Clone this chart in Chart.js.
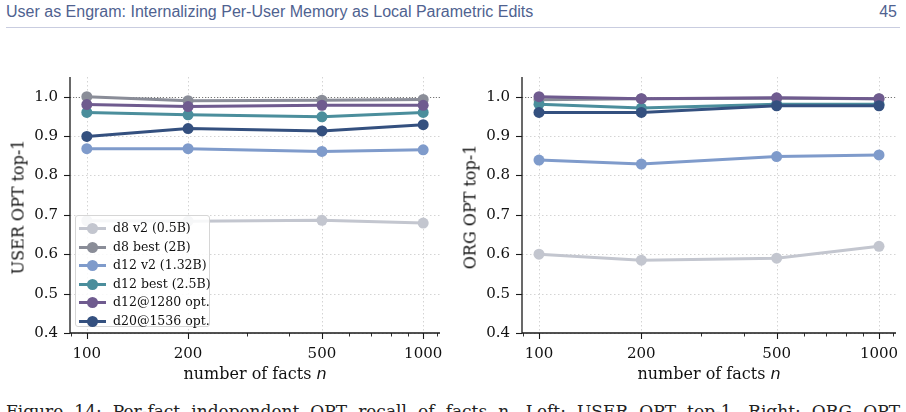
<!DOCTYPE html>
<html><head><meta charset="utf-8">
<script src="https://cdn.jsdelivr.net/npm/chart.js@4.4.1/dist/chart.umd.min.js"></script>
<style>
html,body{margin:0;padding:0;background:#fff;width:906px;height:412px;overflow:hidden;position:relative;}
#hdr{position:absolute;left:6px;top:3px;font:16px "Liberation Sans",Arial,sans-serif;color:#4f6290;white-space:nowrap;}
#pg{position:absolute;right:9px;top:3px;font:16px "Liberation Sans",Arial,sans-serif;color:#4f6290;}
#rule{position:absolute;left:6px;top:27px;width:894px;height:1px;background:#c9cde0;}
.cw{position:absolute;top:60px;height:335px;}
.xt{position:absolute;font:16px "DejaVu Serif",serif;color:#111;white-space:nowrap;transform:translateX(-50%);}
.xt i{font-family:"DejaVu Sans",sans-serif;font-style:oblique;}
.yt{position:absolute;font:16px "DejaVu Serif",serif;color:#111;white-space:nowrap;transform:translate(-50%,-50%) rotate(-90deg);}
#leg{position:absolute;left:75px;top:215px;width:135px;height:112px;background:rgba(255,255,255,0.85);border:1px solid #d6d6d6;border-radius:3px;box-sizing:border-box;}
.row{position:absolute;left:0;height:18px;font:12.5px "DejaVu Serif",serif;color:#111;white-space:nowrap;}
.row .ln{position:absolute;left:3px;top:8px;width:27px;height:3px;}
.row .dt{position:absolute;left:11px;top:4px;width:11px;height:11px;border-radius:50%;}
.row .tx{position:absolute;left:37px;top:1px;}
#cap{position:absolute;left:6px;top:401px;width:894px;font:17px "DejaVu Serif",serif;color:#222;text-align:justify;text-align-last:justify;white-space:nowrap;}
</style></head>
<body>
<div id="hdr">User as Engram: Internalizing Per-User Memory as Local Parametric Edits</div>
<div id="pg">45</div>
<div id="rule"></div>
<div class="cw" style="left:0;width:453px"><canvas id="c1" width="453" height="335"></canvas></div>
<div class="cw" style="left:453px;width:453px"><canvas id="c2" width="453" height="335"></canvas></div>
<div class="xt" style="left:255px;top:364px">number of facts <i>n</i></div>
<div class="xt" style="left:709px;top:364px">number of facts <i>n</i></div>
<div class="yt" style="left:18px;top:207px">USER OPT top-1</div>
<div class="yt" style="left:470px;top:207px">ORG OPT top-1</div>
<div id="leg"></div>
<div id="cap">Figure 14: Per-fact independent OPT recall of facts n. Left: USER OPT top-1. Right: ORG OPT</div>
<script>
// ---- data ----
const facts = [100, 200, 500, 1000];
const seriesNames = ["d8 v2 (0.5B)", "d8 best (2B)", "d12 v2 (1.32B)", "d12 best (2.5B)", "d12@1280 opt.", "d20@1536 opt."];
const seriesColors = ["#c3c6cf", "#8a8d98", "#7f9bcb", "#4b8e9c", "#6f5b8f", "#34507f"];
// USER OPT top-1 (left)
const userD8v2 = [0.685, 0.684, 0.686, 0.679];
const userD8best = [1.0, 0.990, 0.991, 0.993];
const userD12v2 = [0.868, 0.868, 0.861, 0.865];
const userD12best = [0.960, 0.954, 0.949, 0.960];
const userD12opt = [0.980, 0.975, 0.978, 0.978];
const userD20opt = [0.899, 0.919, 0.913, 0.929];
// ORG OPT top-1 (right)
const orgD8v2 = [0.600, 0.585, 0.590, 0.620];
const orgD8best = [0.992, 0.995, 0.996, 0.995];
const orgD12v2 = [0.839, 0.829, 0.848, 0.852];
const orgD12best = [0.981, 0.971, 0.981, 0.981];
const orgD12opt = [1.0, 0.995, 0.997, 0.995];
const orgD20opt = [0.960, 0.960, 0.977, 0.977];
const yTicks = [0.4, 0.5, 0.6, 0.7, 0.8, 0.9, 1.0];
const xMajor = [100, 200, 500, 1000];
const xMinor = [90, 300, 400, 600, 700, 800, 900, 1100];
const refLine = 1.0;

const userSeries = [userD8v2, userD8best, userD12v2, userD12best, userD12opt, userD20opt];
const orgSeries = [orgD8v2, orgD8best, orgD12v2, orgD12best, orgD12opt, orgD20opt];

// legend (HTML)
const leg = document.getElementById('leg');
seriesNames.forEach((n, i) => {
  const r = document.createElement('div');
  r.className = 'row';
  r.style.top = (3 + i * 18.5) + 'px';
  r.innerHTML = `<span class="ln" style="background:${seriesColors[i]}"></span><span class="dt" style="background:${seriesColors[i]}"></span><span class="tx">${n}</span>`;
  leg.appendChild(r);
});

const axesPlugin = {
  id: 'mplAxes',
  beforeDatasetsDraw(chart) {
    const {ctx, chartArea: a, scales: {x, y}} = chart;
    ctx.save();
    ctx.strokeStyle = '#cfcfcf';
    ctx.lineWidth = 0.9;
    ctx.setLineDash([1.5, 2.5]);
    xMajor.forEach(v => {
      const px = Math.round(x.getPixelForValue(v)) + 0.5;
      ctx.beginPath(); ctx.moveTo(px, a.top); ctx.lineTo(px, a.bottom); ctx.stroke();
    });
    yTicks.forEach(v => {
      const py = Math.round(y.getPixelForValue(v)) + 0.5;
      ctx.beginPath(); ctx.moveTo(a.left, py); ctx.lineTo(a.right, py); ctx.stroke();
    });
    ctx.strokeStyle = '#777';
    ctx.lineWidth = 1;
    ctx.setLineDash([1, 2]);
    const pr = Math.round(y.getPixelForValue(refLine)) + 0.5;
    ctx.beginPath(); ctx.moveTo(a.left, pr); ctx.lineTo(a.right, pr); ctx.stroke();
    ctx.restore();
  },
  afterDraw(chart) {
    const {ctx, chartArea: a, scales: {x, y}} = chart;
    ctx.save();
    ctx.strokeStyle = '#1a1a1a';
    ctx.lineWidth = 1.3;
    ctx.setLineDash([]);
    ctx.beginPath();
    ctx.moveTo(a.left, a.top); ctx.lineTo(a.left, a.bottom); ctx.lineTo(a.right, a.bottom);
    ctx.stroke();
    ctx.lineWidth = 1.1;
    yTicks.forEach(v => {
      const py = Math.round(y.getPixelForValue(v)) + 0.5;
      ctx.beginPath(); ctx.moveTo(a.left - 6, py); ctx.lineTo(a.left, py); ctx.stroke();
    });
    xMajor.forEach(v => {
      const px = Math.round(x.getPixelForValue(v)) + 0.5;
      ctx.beginPath(); ctx.moveTo(px, a.bottom); ctx.lineTo(px, a.bottom + 6); ctx.stroke();
    });
    ctx.lineWidth = 0.9;
    xMinor.forEach(v => {
      const px = Math.round(x.getPixelForValue(v)) + 0.5;
      ctx.beginPath(); ctx.moveTo(px, a.bottom); ctx.lineTo(px, a.bottom + 3.5); ctx.stroke();
    });
    ctx.restore();
  }
};

function zeroPad(s) { s.paddingLeft = 0; s.paddingRight = 0; s.paddingTop = 0; s.paddingBottom = 0; }

function makeChart(id, series, yWidth, padRight) {
  const datasets = series.map((vals, i) => ({
    label: seriesNames[i],
    data: facts.map((f, j) => ({x: f, y: vals[j]})),
    borderColor: seriesColors[i],
    backgroundColor: seriesColors[i],
    borderWidth: 3,
    pointRadius: 5.5,
    pointBorderWidth: 0,
    pointHoverRadius: 5.5,
    tension: 0,
    order: 10 - i
  }));
  return new Chart(document.getElementById(id), {
    type: 'line',
    data: {datasets},
    options: {
      responsive: false,
      animation: false,
      events: [],
      layout: {padding: {top: 17, right: padRight, left: 0, bottom: 0}},
      plugins: {legend: {display: false}, tooltip: {enabled: false}},
      scales: {
        x: {
          type: 'logarithmic',
          min: Math.pow(10, 1.95), max: Math.pow(10, 3.05),
          afterBuildTicks: s => { s.ticks = xMajor.map(v => ({value: v, major: true})); },
          afterFit: s => { s.height = 62; zeroPad(s); },
          grid: {display: false, drawTicks: false}, border: {display: false},
          ticks: {padding: 12, color: '#111', font: {family: 'DejaVu Serif', size: 15}, autoSkip: false, maxRotation: 0,
                  callback: v => String(v)}
        },
        y: {
          type: 'linear', min: 0.4, max: 1.05,
          afterBuildTicks: s => { s.ticks = yTicks.map(v => ({value: v})); },
          afterFit: s => { s.width = yWidth; zeroPad(s); },
          grid: {display: false, drawTicks: false}, border: {display: false},
          ticks: {padding: 12, color: '#111', font: {family: 'DejaVu Serif', size: 15},
                  callback: v => Number(v).toFixed(1)}
        }
      }
    },
    plugins: [axesPlugin]
  });
}
makeChart('c1', userSeries, 70, 13);
makeChart('c2', orgSeries, 69, 10);
</script>
</body></html>
